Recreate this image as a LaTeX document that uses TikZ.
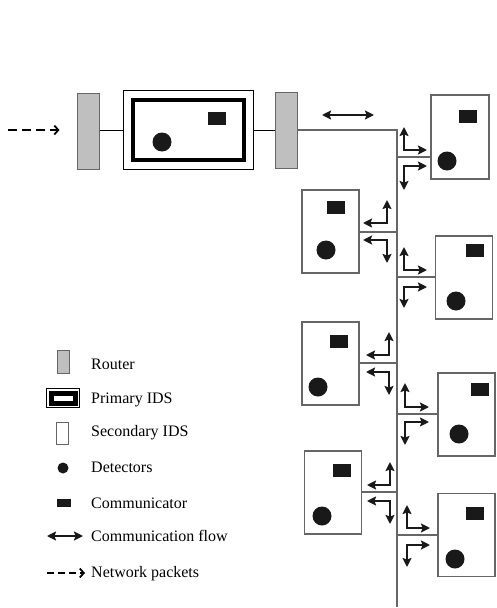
\documentclass[tikz,border=0pt]{standalone}
\usepackage{fontspec}
\setmainfont{Liberation Serif}
\usetikzlibrary{arrows.meta}

\tikzset{
  router/.style={draw=black!60, fill=black!25, line width=1pt, minimum width=22pt, minimum height=76pt, inner sep=0pt},
  secids/.style={draw=black!60, fill=white, line width=1.2pt, minimum width=57pt, minimum height=83pt, inner sep=0pt},
  detector/.style={circle, fill=black!90, minimum size=19pt, inner sep=0pt},
  comm/.style={fill=black!90, minimum width=18pt, minimum height=13pt, inner sep=0pt},
  flow/.style={{Stealth[length=9pt,width=9pt,inset=1.5pt]}-{Stealth[length=9pt,width=9pt,inset=1.5pt]}, line width=1.9pt, black!90},
  packets/.style={-{Straight Barb[length=4pt,width=9pt]}, line width=1.8pt, dash pattern=on 9pt off 5pt},
  bus/.style={black!60, line width=1.2pt},
  legend/.style={anchor=west, inner sep=0pt, font=\fontsize{16}{19}\selectfont}
}

\begin{document}
\begin{tikzpicture}[x=1pt, y=-1pt]
  \useasboundingbox (0,0) rectangle (496,608);

  % incoming packets, routers and primary IDS
  \coordinate (src) at (8,130);
  \node[router] (rl) at (88,131) {};
  \node[draw, line width=1pt, minimum width=130pt, minimum height=79pt, inner sep=0pt] (pids) at (188,129.5) {};
  \node[draw, line width=4pt, minimum width=111pt, minimum height=60pt, inner sep=0pt] (pin) at (pids.center) {};
  \node[detector] (pdet) at (162,142) {};
  \node[comm] (pcom) at (216.5,118.5) {};
  \node[router] (rr) at (286.5,130) {};

  \draw[packets, shorten >=17pt] (src) -- (src -| rl.west);
  \draw (rl.east |- src) -- (pids.west |- src);
  \draw (pids.east |- src) -- (rr.west |- src);

  % bus
  \coordinate (bustop) at (397,130);
  \coordinate (busend) at (397,607);
  \draw[bus] (rr.east |- bustop) -- (bustop) -- (busend);
  \coordinate (fa) at (322,115);
  \coordinate (fb) at (374,115);
  \draw[flow] (fa) -- (fb);

  % secondary IDS
  \node[secids, minimum width=58pt, minimum height=84pt] (s1) at (460,137) {};
  \node[secids] (s2) at (330.5,231.5) {};
  \node[secids] (s3) at (464,277.5) {};
  \node[secids] (s4) at (330.5,363.5) {};
  \node[secids] (s5) at (466.5,414.5) {};
  \node[secids] (s6) at (333,492.5) {};
  \node[secids] (s7) at (466.5,535) {};

  \node[comm] (c1) at ([shift={(8,-21)}]s1.center) {};
  \node[detector] (d1) at ([shift={(-13,24)}]s1.center) {};
  \node[comm] (c2) at ([shift={(5.5,-24.5)}]s2.center) {};
  \node[detector] (d2) at ([shift={(-4.5,18.5)}]s2.center) {};
  \node[comm] (c3) at ([shift={(11,-27.5)}]s3.center) {};
  \node[detector] (d3) at ([shift={(-8,23.5)}]s3.center) {};
  \node[comm] (c4) at ([shift={(8,-22)}]s4.center) {};
  \node[detector] (d4) at ([shift={(-12.5,23.5)}]s4.center) {};
  \node[comm] (c5) at ([shift={(13,-25)}]s5.center) {};
  \node[detector] (d5) at ([shift={(-7.5,19.5)}]s5.center) {};
  \node[comm] (c6) at ([shift={(8.5,-22)}]s6.center) {};
  \node[detector] (d6) at ([shift={(-11,23.5)}]s6.center) {};
  \node[comm] (c7) at ([shift={(8.5,-21.5)}]s7.center) {};
  \node[detector] (d7) at ([shift={(-11.5,24)}]s7.center) {};

  % taps from the bus
  \coordinate (t1) at (397,157);
  \coordinate (t2) at (397,232);
  \coordinate (t3) at (397,277);
  \coordinate (t4) at (397,363);
  \coordinate (t5) at (397,414);
  \coordinate (t6) at (397,492);
  \coordinate (t7) at (397,535);
  \draw[bus] (t1) -- (t1 -| s1.west);
  \draw[bus] (t2) -- (t2 -| s2.east);
  \draw[bus] (t3) -- (t3 -| s3.west);
  \draw[bus] (t4) -- (t4 -| s4.east);
  \draw[bus] (t5) -- (t5 -| s5.west);
  \draw[bus] (t6) -- (t6 -| s6.east);
  \draw[bus] (t7) -- (t7 -| s7.west);

  % flows at each tap
  \draw[flow] ([shift={(7,-30)}]t1) |- ([shift={(30,-7)}]t1);
  \draw[flow] ([shift={(7,33)}]t1) |- ([shift={(30,9)}]t1);
  \draw[flow] ([shift={(-10,-32)}]t2) |- ([shift={(-34,-9)}]t2);
  \draw[flow] ([shift={(-10,31)}]t2) |- ([shift={(-34,8)}]t2);
  \draw[flow] ([shift={(7,-30)}]t3) |- ([shift={(30,-7)}]t3);
  \draw[flow] ([shift={(7,31)}]t3) |- ([shift={(30,10)}]t3);
  \draw[flow] ([shift={(-8,-31)}]t4) |- ([shift={(-31,-8)}]t4);
  \draw[flow] ([shift={(-8,32)}]t4) |- ([shift={(-31,9)}]t4);
  \draw[flow] ([shift={(8,-31)}]t5) |- ([shift={(32,-7)}]t5);
  \draw[flow] ([shift={(8,31)}]t5) |- ([shift={(32,8)}]t5);
  \draw[flow] ([shift={(-7,-30)}]t6) |- ([shift={(-30,-7)}]t6);
  \draw[flow] ([shift={(-7,32)}]t6) |- ([shift={(-30,9)}]t6);
  \draw[flow] ([shift={(10,-30)}]t7) |- ([shift={(33,-7)}]t7);
  \draw[flow] ([shift={(10,32)}]t7) |- ([shift={(33,10)}]t7);

  % legend
  \node[router, line width=0.8pt, minimum width=12pt, minimum height=23pt] (lrouter) at (63,361.5) {};
  \node[legend] (trouter) at (91,364) {Router};
  \node[draw, line width=1pt, minimum width=33pt, minimum height=19pt, inner sep=0pt] (lpids) at (63,398) {};
  \node[draw, line width=5pt, minimum width=24pt, minimum height=10pt, inner sep=0pt] (lpin) at (lpids.center) {};
  \node[legend] (tpids) at (91,400) {Primary IDS};
  \node[secids, line width=1pt, minimum width=12pt, minimum height=22pt] (lsec) at (62,433) {};
  \node[legend] (tsec) at (91,433) {Secondary IDS};
  \node[detector, minimum size=11pt] (ldet) at (63,468) {};
  \node[legend] (tdet) at (91,467) {Detectors};
  \node[comm, minimum width=14pt, minimum height=8pt] (lcom) at (64,503) {};
  \node[legend] (tcom) at (91,503) {Communicator};
  \coordinate (lfa) at (47,536);
  \coordinate (lfb) at (83,536);
  \draw[flow] (lfa) -- (lfb);
  \node[legend] (tflow) at (91,536) {Communication flow};
  \coordinate (lpa) at (47,573);
  \coordinate (lpb) at (85,573);
  \draw[packets, dash pattern=on 7pt off 4pt] (lpa) -- (lpb);
  \node[legend] (tpack) at (91,574) {Network packets};
\end{tikzpicture}
\end{document}
